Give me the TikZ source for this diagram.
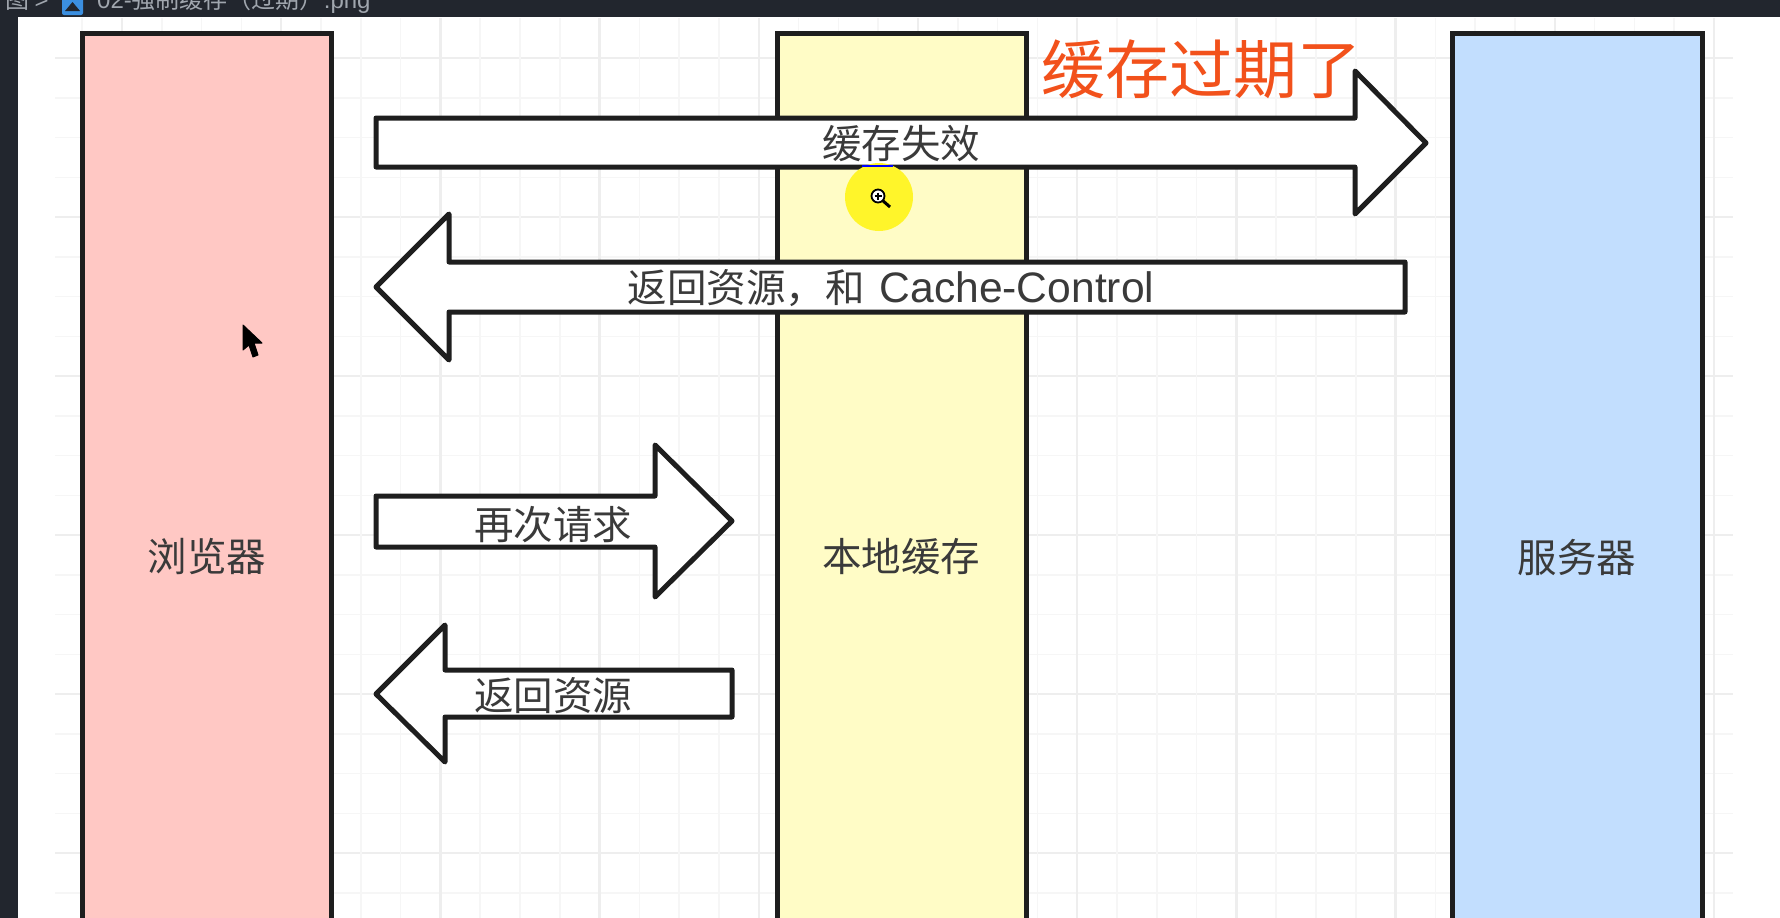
\documentclass[tikz,border=0pt]{standalone}
\usepackage{fontspec}
\setmainfont{Noto Sans CJK SC}
\newfontfamily\latinf{Liberation Sans}
\definecolor{barc}{HTML}{22262E}
\definecolor{redc}{HTML}{FFC8C4}
\definecolor{yelc}{HTML}{FFFCC6}
\definecolor{bluc}{HTML}{C2DEFE}
\definecolor{linec}{HTML}{1E1E1E}
\definecolor{txtc}{HTML}{3A3A3A}
\definecolor{orgc}{HTML}{F2511B}
\definecolor{barttxt}{HTML}{A0A6AE}
\definecolor{minorc}{HTML}{F6F6F6}
\definecolor{majorc}{HTML}{EEEEEE}
\definecolor{dotc}{HTML}{FFF52A}
\definecolor{iconc}{HTML}{3B8FE0}
\tikzset{
  lane/.style={draw=linec,line width=5pt,line join=miter},
  blockarrow/.style={draw=linec,fill=white,line width=5pt,line join=round},
  lbl/.style={text=txtc,font=\fontsize{39.5}{39.5}\selectfont,inner sep=0pt,anchor=center},
  bartext/.style={text=barttxt,font=\fontsize{24}{24}\selectfont,inner sep=0pt,anchor=base west},
  minor/.style={draw=minorc,line width=1.5pt},
  major/.style={draw=majorc,line width=2.5pt},
}
\begin{document}
\begin{tikzpicture}[x=1pt,y=-1pt]
\useasboundingbox (0,0) rectangle (1780,918);
\clip (0,0) rectangle (1780,918);
\fill[white] (0,0) rectangle (1780,918);
% grid
\foreach \k in {0,...,21}{
  \pgfmathtruncatemacro{\m}{mod(\k,4)}
  \pgfmathsetmacro{\yy}{58+39.75*\k}
  \ifnum\m=0 \draw[major] (55,\yy) -- (1733,\yy); \else \draw[minor] (55,\yy) -- (1733,\yy); \fi
}
\foreach \k in {-1,...,40}{
  \pgfmathtruncatemacro{\m}{mod(\k+4,4)}
  \pgfmathsetmacro{\xx}{122+39.8*\k}
  \ifnum\m=0 \draw[major] (\xx,18) -- (\xx,918); \else \draw[minor] (\xx,18) -- (\xx,918); \fi
}
% window chrome
\fill[barc] (0,0) rectangle (1780,17);
\fill[barc] (0,0) rectangle (18,918);
\node[bartext] (crumb) at (5,9) {图 \latinf >};
\fill[iconc,rounded corners=2pt] (62,-4) rectangle (83,15);
\fill[barc] (65,11) -- (72.5,2) -- (80,11) -- cycle;
\node[bartext] (tabname) at (97,9) {{\latinf 02-}强制缓存（过期）{\latinf .png}};
% lanes
\draw[lane,fill=redc] (82,950) |- (331,33) -- (331,950);
\draw[lane,fill=yelc] (777,950) |- (1026,33) -- (1026,950);
\draw[lane,fill=bluc] (1452,950) |- (1702,33) -- (1702,950);
\node[lbl] (browser) at (207,557) {浏览器};
\node[lbl] (cache) at (901,557) {本地缓存};
\node[lbl] (server) at (1577,557) {服务器};
% block arrows
\draw[blockarrow] (376,118) -- (1355,118) -- (1355,71) -- (1426,143) -- (1355,214) -- (1355,167) -- (376,167) -- cycle;
\fill[dotc] (879,197) circle (34);
\draw[blue,line width=2pt] (862,166) -- (893,166);
\draw[blockarrow] (1405,262) -- (449,262) -- (449,214) -- (376,287) -- (449,360) -- (449,312) -- (1405,312) -- cycle;
\draw[blockarrow] (376,496) -- (655,496) -- (655,445) -- (732,521) -- (655,597) -- (655,547) -- (376,547) -- cycle;
\draw[blockarrow] (732,670) -- (445,670) -- (445,625) -- (376,694) -- (445,762) -- (445,717) -- (732,717) -- cycle;
\node[lbl] (l1) at (901,144) {缓存失效};
\node[lbl] (l2) at (891,288) {返回资源，和\hspace{15pt}{\latinf\fontsize{42.6}{42.6}\selectfont Cache-Control}};
\node[lbl] (l3) at (553,525) {再次请求};
\node[lbl] (l4) at (553,696) {返回资源};
\node[text=orgc,font=\fontsize{64}{64}\selectfont,inner sep=0pt,anchor=center] (title) at (1201,69) {缓存过期了};
% pointer
\draw[black,fill=black,line width=1pt,line join=round] (243,325) -- (243,350) -- (249,345) -- (253,357) -- (258,355) -- (254,343) -- (262,343) -- cycle;
% magnifier
\draw[black,line width=3pt] (882,200) -- (890,207);
\draw[black,fill=white,line width=1.8pt] (878,196) circle (6.5);
\draw[black,line width=1.2pt] (874.5,196) -- (881.5,196) (878,192.5) -- (878,199.5);
\end{tikzpicture}
\end{document}
